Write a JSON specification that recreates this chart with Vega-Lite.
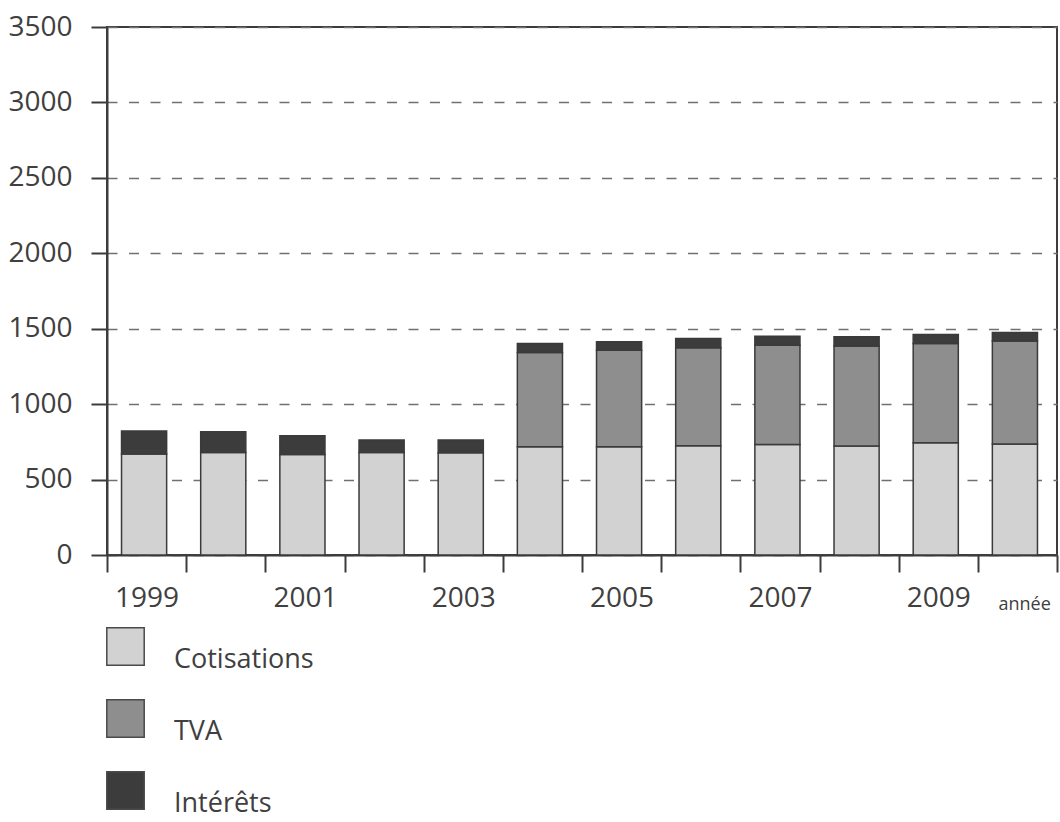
{
  "$schema": "https://vega.github.io/schema/vega-lite/v6.json",
  "width": 950,
  "height": 528,
  "autosize": {"type": "none"},
  "padding": {"left": 107, "top": 27, "right": 3, "bottom": 267},
  "background": "#ffffff",
  "config": {
    "font": "Open Sans",
    "view": {"stroke": "#3c3c3c", "strokeWidth": 2},
    "axis": {
      "labelFont": "Open Sans",
      "labelColor": "#404040",
      "labelFontSize": 28,
      "domainColor": "#3c3c3c",
      "domainWidth": 2,
      "tickColor": "#3c3c3c",
      "tickWidth": 2
    }
  },
  "data": {
    "values": [
      {"annee": 1999, "source": "Cotisations", "montant": 670},
      {"annee": 1999, "source": "Intérêts", "montant": 152},
      {"annee": 2000, "source": "Cotisations", "montant": 680},
      {"annee": 2000, "source": "Intérêts", "montant": 137},
      {"annee": 2001, "source": "Cotisations", "montant": 667},
      {"annee": 2001, "source": "Intérêts", "montant": 123},
      {"annee": 2002, "source": "Cotisations", "montant": 680},
      {"annee": 2002, "source": "Intérêts", "montant": 82},
      {"annee": 2003, "source": "Cotisations", "montant": 678},
      {"annee": 2003, "source": "Intérêts", "montant": 84},
      {"annee": 2004, "source": "Cotisations", "montant": 717},
      {"annee": 2004, "source": "TVA", "montant": 625},
      {"annee": 2004, "source": "Intérêts", "montant": 60},
      {"annee": 2005, "source": "Cotisations", "montant": 717},
      {"annee": 2005, "source": "TVA", "montant": 641},
      {"annee": 2005, "source": "Intérêts", "montant": 55},
      {"annee": 2006, "source": "Cotisations", "montant": 724},
      {"annee": 2006, "source": "TVA", "montant": 649},
      {"annee": 2006, "source": "Intérêts", "montant": 62},
      {"annee": 2007, "source": "Cotisations", "montant": 733},
      {"annee": 2007, "source": "TVA", "montant": 658},
      {"annee": 2007, "source": "Intérêts", "montant": 59},
      {"annee": 2008, "source": "Cotisations", "montant": 722},
      {"annee": 2008, "source": "TVA", "montant": 664},
      {"annee": 2008, "source": "Intérêts", "montant": 60},
      {"annee": 2009, "source": "Cotisations", "montant": 744},
      {"annee": 2009, "source": "TVA", "montant": 658},
      {"annee": 2009, "source": "Intérêts", "montant": 60},
      {"annee": 2010, "source": "Cotisations", "montant": 735},
      {"annee": 2010, "source": "TVA", "montant": 684},
      {"annee": 2010, "source": "Intérêts", "montant": 56}
    ]
  },
  "transform": [
    {"calculate": "indexof(['Cotisations','TVA','Intérêts'], datum.source)", "as": "source_order"}
  ],
  "mark": {
    "type": "bar",
    "width": {"band": 0.57},
    "xOffset": -2.5,
    "stroke": "#3a3a3a",
    "strokeWidth": 1.5
  },
  "encoding": {
    "x": {
      "field": "annee",
      "type": "ordinal",
      "scale": {"paddingInner": 0, "paddingOuter": 0},
      "axis": {
        "title": "année",
        "titleFont": "Open Sans",
        "titleFontSize": 18,
        "titleFontWeight": "normal",
        "titleColor": "#404040",
        "titleAlign": "left",
        "titleAnchor": null,
        "titleBaseline": "alphabetic",
        "titleX": 891,
        "titleY": 54,
        "labelAngle": 0,
        "labelPadding": 12,
        "labelExpr": "datum.value % 2 == 1 ? datum.label : ''",
        "tickBand": "extent",
        "tickSize": 17,
        "grid": false
      }
    },
    "y": {
      "field": "montant",
      "type": "quantitative",
      "aggregate": "sum",
      "stack": "zero",
      "scale": {"domain": [0, 3500], "nice": false},
      "axis": {
        "title": null,
        "format": "d",
        "values": [0, 500, 1000, 1500, 2000, 2500, 3000, 3500],
        "tickSize": 16,
        "labelPadding": 19,
        "grid": true,
        "gridDash": [10, 11.5],
        "gridColor": "#707070",
        "gridWidth": 1.5
      }
    },
    "color": {
      "field": "source",
      "type": "nominal",
      "sort": ["Cotisations", "TVA", "Intérêts"],
      "scale": {
        "domain": ["Cotisations", "TVA", "Intérêts"],
        "range": ["#d2d2d2", "#8e8e8e", "#3c3c3c"]
      },
      "legend": {
        "title": null,
        "orient": "none",
        "direction": "vertical",
        "legendX": -1,
        "legendY": 600,
        "padding": 0,
        "symbolType": "square",
        "symbolSize": 1400,
        "symbolStrokeColor": "#4a4a4a",
        "symbolStrokeWidth": 1.5,
        "symbolOpacity": 1,
        "labelFont": "Open Sans",
        "labelFontSize": 27,
        "labelColor": "#404040",
        "labelBaseline": "top",
        "labelOffset": 29,
        "rowPadding": 23,
        "labelLimit": 400
      }
    },
    "order": {"field": "source_order", "type": "quantitative"}
  }
}
